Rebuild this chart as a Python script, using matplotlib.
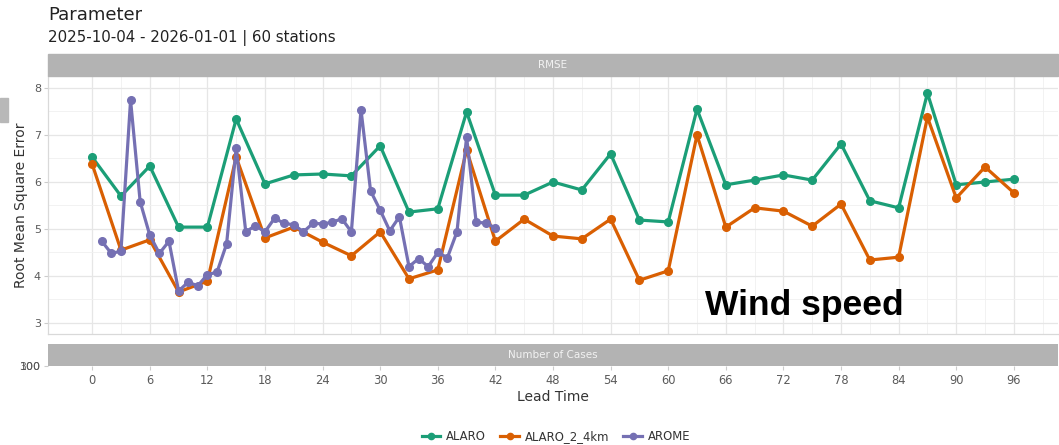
import matplotlib
matplotlib.use("Agg")
import matplotlib.pyplot as plt
from matplotlib.patches import Rectangle
from matplotlib.lines import Line2D

# Datos (RMSE viento)
lead_3h = list(range(0, 97, 3))
alaro = [6.53, 5.70, 6.34, 5.04, 5.04, 7.34, 5.96, 6.15, 6.17, 6.13, 6.77,
         5.36, 5.43, 7.49, 5.72, 5.72, 6.00, 5.83, 6.60, 5.19, 5.15, 7.55,
         5.94, 6.04, 6.15, 6.04, 6.81, 5.60, 5.45, 7.89, 5.94, 6.00, 6.06]
alaro_2_4km = [6.38, 4.55, 4.77, 3.66, 3.89, 6.53, 4.81, 5.04, 4.72, 4.43, 4.94,
               3.94, 4.13, 6.68, 4.74, 5.21, 4.85, 4.79, 5.21, 3.91, 4.11, 7.00,
               5.04, 5.45, 5.38, 5.06, 5.53, 4.34, 4.40, 7.38, 5.66, 6.32, 5.77]
lead_1h = list(range(1, 43))
arome = [4.74, 4.48, 4.53, 7.74, 5.58, 4.87, 4.48, 4.74, 3.68, 3.87, 3.79, 4.03,
         4.08, 4.68, 6.72, 4.94, 5.07, 4.94, 5.23, 5.12, 5.09, 4.94, 5.12, 5.11,
         5.14, 5.22, 4.94, 7.54, 5.81, 5.40, 4.96, 5.26, 4.20, 4.37, 4.20, 4.50,
         4.39, 4.94, 6.96, 5.14, 5.13, 5.02]
x_ticks = list(range(0, 97, 6))
y_ticks = [3, 4, 5, 6, 7, 8]

colores = {"ALARO": "#1b9e77", "ALARO_2_4km": "#d95f02", "AROME": "#7570b3"}
gris_txt = "#5a5a5a"
gris_strip = "#b3b3b3"

W, H = 1059, 445
fig = plt.figure(figsize=(W / 100, H / 100), dpi=100)


def fx(px):
    return px / W


def fy(py):
    return 1 - py / H


# Panel principal
ax = fig.add_axes([fx(48), fy(334), fx(1058) - fx(48), fy(76) - fy(334)])
ax.set_xlim(-4.6, 100.6)
ax.set_ylim(2.766, 8.255)
ax.set_xticks(x_ticks)
ax.set_xticks(range(3, 100, 6), minor=True)
ax.set_yticks(y_ticks)
ax.set_yticks([3.5, 4.5, 5.5, 6.5, 7.5], minor=True)
ax.grid(True, which="major", color="#e6e6e6", lw=0.9)
ax.grid(True, which="minor", color="#f0f0f0", lw=0.6)
ax.set_axisbelow(True)
ax.tick_params(axis="x", which="both", length=0, labelbottom=False)
ax.tick_params(axis="y", which="minor", length=0)
ax.tick_params(axis="y", which="major", length=3, color="#cccccc",
               labelsize=8, labelcolor=gris_txt, pad=2)
for s in ["top", "right"]:
    ax.spines[s].set_visible(False)
for s in ["left", "bottom"]:
    ax.spines[s].set_color("#d9d9d9")
    ax.spines[s].set_linewidth(0.9)

kw = dict(lw=2.3, marker="o", ms=5.5, solid_joinstyle="round")
ax.plot(lead_3h, alaro, color=colores["ALARO"], **kw)
ax.plot(lead_3h, alaro_2_4km, color=colores["ALARO_2_4km"], **kw)
ax.plot(lead_1h, arome, color=colores["AROME"], **kw)
ax.set_ylabel("Root Mean Square Error", fontsize=10, color="#333333", labelpad=4)

ax.text(0.7485, 0.112, "Wind speed", transform=ax.transAxes, ha="center",
        va="center", fontsize=25.5, fontweight="bold",
        family=["Liberation Sans", "DejaVu Sans"], color="black")

# Tira RMSE
fig.patches.append(Rectangle((fx(48), fy(76)), fx(1058) - fx(48), fy(54) - fy(76),
                             transform=fig.transFigure, color=gris_strip, zorder=0))
fig.text(fx(553), fy(65), "RMSE", ha="center", va="center", fontsize=7.5,
         color="#f2f2f2")

# Panel "Number of Cases" (colapsado)
ax2 = fig.add_axes([fx(48), fy(366), fx(1058) - fx(48), fy(344) - fy(366)])
ax2.set_facecolor(gris_strip)
ax2.set_xlim(-4.6, 100.6)
ax2.set_ylim(0, 1)
for s in ax2.spines.values():
    s.set_visible(False)
ax2.set_xticks(x_ticks)
ax2.set_yticks([0])
ax2.set_yticklabels(["100"])
ax2.tick_params(axis="x", length=3, color="#cccccc", labelsize=8.3,
                labelcolor=gris_txt, pad=3)
ax2.tick_params(axis="y", length=3, color="#cccccc", labelsize=8,
                labelcolor="#555555", pad=2)
ax2.text(0.5, 0.5, "Number of Cases", transform=ax2.transAxes, ha="center",
         va="center", fontsize=7.5, color="#f2f2f2")
ax2.set_xlabel("Lead Time", fontsize=10, color="#333333", labelpad=2)
# etiqueta superpuesta
fig.text(fx(40), fy(367), "300", ha="right", va="center", fontsize=8,
         color="#555555", alpha=0.8)

# Titulos
fig.text(fx(48), fy(15), "Parameter", ha="left", va="center", fontsize=13,
         color="#222222")
fig.text(fx(48), fy(38), "2025-10-04 - 2026-01-01 | 60 stations", ha="left",
         va="center", fontsize=10.8, color="#222222")

# Resto gris en el borde izquierdo
fig.patches.append(Rectangle((0, fy(122)), fx(8), fy(98) - fy(122),
                             transform=fig.transFigure, color="#b8b8b8"))

# Leyenda
handles = [Line2D([], [], color=c, lw=2.3, marker="o", ms=4.5) for c in colores.values()]
fig.legend(handles, list(colores.keys()), loc="center", bbox_to_anchor=(fx(556), fy(437)),
           ncol=3, frameon=False, fontsize=8.4, handlelength=1.6, columnspacing=1.2,
           handletextpad=0.5, labelcolor="#333333")

fig.savefig("out.png", dpi=100)
